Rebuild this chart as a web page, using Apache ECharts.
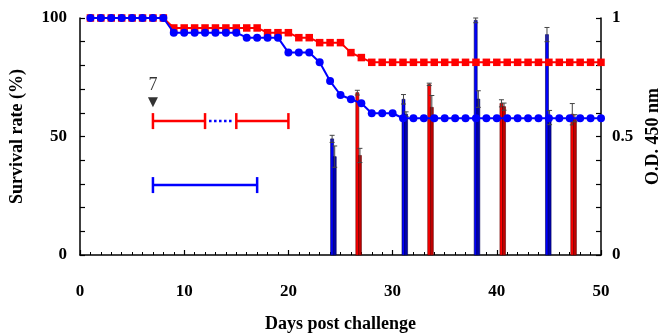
<!DOCTYPE html>
<html>
<head>
<meta charset="utf-8">
<script src="https://cdn.jsdelivr.net/npm/echarts@6/dist/echarts.min.js"></script>
<style>
  html, body { margin: 0; padding: 0; background: #fff; }
  #chart { width: 664px; height: 334px; }
</style>
</head>
<body>
<div id="chart"></div>
<script>
// 攻毒后天数
const days = [1, 2, 3, 4, 5, 6, 7, 8, 9, 10, 11, 12, 13, 14, 15, 16, 17, 18, 19, 20,
  21, 22, 23, 24, 25, 26, 27, 28, 29, 30, 31, 32, 33, 34, 35, 36, 37, 38, 39, 40,
  41, 42, 43, 44, 45, 46, 47, 48, 49, 50];

// 存活率 (%)
const survivalRed = [100, 100, 100, 100, 100, 100, 100, 100,
  95.8, 95.8, 95.8, 95.8, 95.8, 95.8, 95.8, 95.8, 95.8,
  93.8, 93.8, 93.8, 91.7, 91.7, 89.6, 89.6, 89.6, 85.4, 83.3,
  81.3, 81.3, 81.3, 81.3, 81.3, 81.3, 81.3, 81.3, 81.3, 81.3, 81.3, 81.3,
  81.3, 81.3, 81.3, 81.3, 81.3, 81.3, 81.3, 81.3, 81.3, 81.3, 81.3];
const survivalBlue = [100, 100, 100, 100, 100, 100, 100, 100,
  93.8, 93.8, 93.8, 93.8, 93.8, 93.8, 93.8,
  91.7, 91.7, 91.7, 91.7, 85.4, 85.4, 85.4, 81.3, 73.4, 67.5, 65.7, 64.0,
  59.8, 59.8, 59.8, 57.7, 57.7, 57.7, 57.7, 57.7, 57.7, 57.7, 57.7, 57.7, 57.7,
  57.7, 57.7, 57.7, 57.7, 57.7, 57.7, 57.7, 57.7, 57.7, 57.7];

// O.D. 450 nm 柱子 (每组两根)
const odDays = [24.32, 26.74, 31.17, 33.64, 38.1, 40.57, 44.94, 47.37];
const odGroup = ['blue', 'red', 'blue', 'red', 'blue', 'red', 'blue', 'red'];
const odFirst = [0.49, 0.685, 0.657, 0.72, 0.99, 0.64, 0.93, 0.594];
const odFirstErr = [0.015, 0.01, 0.02, 0.005, 0.01, 0.015, 0.03, 0.045];
const odSecond = [0.415, 0.42, 0.594, 0.623, 0.658, 0.626, 0.58, 0.577];
const odSecondErr = [0.045, 0.03, 0.01, 0.05, 0.035, 0.015, 0.03, 0.015];

// 免疫时间段标注
const redPeriods = [[7, 12], [15, 20]];
const redPeriodY = 56.5;
const gapPeriod = [12, 15];
const bluePeriod = [7, 17];
const bluePeriodY = 29.5;
const arrowDay = 7;
const arrowY = 64.5;

const FONT = 'Liberation Serif';
const colorMap = {
  red: { fill: '#ff0000', dark: '#c00000', edge: '#600000' },
  blue: { fill: '#0000ff', dark: '#0000b0', edge: '#000050' },
};

const myChart = echarts.init(document.getElementById('chart'), null, { renderer: 'canvas' });

const barData = odDays.map((d, i) => [d, odFirst[i], odFirstErr[i], odSecond[i], odSecondErr[i], i]);

function renderBars(params, api) {
  const i = api.value(5);
  const c = colorMap[odGroup[i]];
  const base = api.coord([api.value(0), 0]);
  const children = [];
  const bw = 3;
  const pairs = [
    [-1.3, api.value(1), api.value(2), c.fill],
    [1.3, api.value(3), api.value(4), c.dark],
  ];
  pairs.forEach(([off, v, e, fill]) => {
    const cx = base[0] + off;
    const top = api.coord([api.value(0), v])[1];
    children.push({
      type: 'rect',
      shape: { x: cx - bw / 2, y: top, width: bw, height: base[1] - top },
      style: { fill, stroke: c.edge, lineWidth: 0.6 },
    });
    // 误差线
    const hi = api.coord([api.value(0), v + e])[1];
    const lo = api.coord([api.value(0), v - e])[1];
    const ec = '#444';
    children.push({ type: 'line', shape: { x1: cx, y1: hi, x2: cx, y2: lo }, style: { stroke: ec, lineWidth: 1 } });
    children.push({ type: 'line', shape: { x1: cx - 2.5, y1: hi, x2: cx + 2.5, y2: hi }, style: { stroke: ec, lineWidth: 1 } });
    children.push({ type: 'line', shape: { x1: cx - 2.5, y1: lo, x2: cx + 2.5, y2: lo }, style: { stroke: ec, lineWidth: 1 } });
  });
  return { type: 'group', children };
}

function renderBracket(color) {
  return function (params, api) {
    const p1 = api.coord([api.value(0), api.value(2)]);
    const p2 = api.coord([api.value(1), api.value(2)]);
    const st = { stroke: color, lineWidth: 2.5 };
    return {
      type: 'group',
      children: [
        { type: 'line', shape: { x1: p1[0], y1: p1[1], x2: p2[0], y2: p2[1] }, style: st },
        { type: 'line', shape: { x1: p1[0], y1: p1[1] - 8, x2: p1[0], y2: p1[1] + 8 }, style: st },
        { type: 'line', shape: { x1: p2[0], y1: p2[1] - 8, x2: p2[0], y2: p2[1] + 8 }, style: st },
      ],
    };
  };
}

function renderDotted(params, api) {
  const p1 = api.coord([api.value(0), api.value(2)]);
  const p2 = api.coord([api.value(1), api.value(2)]);
  return {
    type: 'line',
    shape: { x1: p1[0] + 4, y1: p1[1], x2: p2[0] - 3, y2: p2[1] },
    style: { stroke: '#0000ff', lineWidth: 2.5, lineDash: [2.5, 2.5] },
  };
}

const labelStyle = { color: '#000', fontFamily: FONT, fontWeight: 'bold', fontSize: 17 };
const nameStyle = { color: '#000', fontFamily: FONT, fontWeight: 'bold', fontSize: 18 };

const option = {
  backgroundColor: '#fff',
  animation: false,
  grid: { left: 80, right: 63, top: 18, bottom: 79, outerBoundsMode: 'none' },
  xAxis: {
    type: 'value',
    min: 0,
    max: 50,
    interval: 10,
    name: 'Days post challenge',
    nameLocation: 'middle',
    nameGap: 60,
    nameTextStyle: nameStyle,
    axisLine: { show: true, lineStyle: { color: '#000', width: 1.5 } },
    axisTick: { show: true, inside: true, length: 5, lineStyle: { color: '#000', width: 1.2 } },
    minorTick: { show: true, splitNumber: 10, length: 3, lineStyle: { color: '#000', width: 1 } },
    axisLabel: { ...labelStyle, margin: 28 },
    splitLine: { show: false },
  },
  yAxis: [
    {
      type: 'value',
      min: 0,
      max: 100,
      interval: 50,
      position: 'left',
      name: 'Survival rate (%)',
      nameLocation: 'middle',
      nameRotate: 90,
      nameGap: 54,
      nameTextStyle: nameStyle,
      axisLine: { show: true, lineStyle: { color: '#000', width: 1.5 } },
      axisTick: { show: true, inside: true, length: 5, lineStyle: { color: '#000', width: 1.2 } },
      minorTick: { show: true, splitNumber: 5, length: 5, lineStyle: { color: '#000', width: 1.2 } },
      axisLabel: { ...labelStyle, margin: 13 },
      splitLine: { show: false },
    },
    {
      type: 'value',
      min: 0,
      max: 1,
      interval: 0.5,
      position: 'right',
      name: 'O.D. 450 nm',
      nameLocation: 'middle',
      nameRotate: 90,
      nameGap: 40,
      nameTextStyle: nameStyle,
      axisLine: { show: true, lineStyle: { color: '#000', width: 1.5 } },
      axisTick: { show: true, inside: true, length: 5, lineStyle: { color: '#000', width: 1.2 } },
      minorTick: { show: true, splitNumber: 5, length: 5, lineStyle: { color: '#000', width: 1.2 } },
      axisLabel: { ...labelStyle, margin: 11 },
      splitLine: { show: false },
    },
  ],
  series: [
    {
      type: 'custom',
      name: 'OD',
      yAxisIndex: 1,
      renderItem: renderBars,
      data: barData,
      z: 1,
    },
    {
      type: 'custom',
      renderItem: renderBracket('#ff0000'),
      data: redPeriods.map((p) => [p[0], p[1], redPeriodY]),
      z: 2,
    },
    {
      type: 'custom',
      renderItem: renderDotted,
      data: [[gapPeriod[0], gapPeriod[1], redPeriodY]],
      z: 2,
    },
    {
      type: 'custom',
      renderItem: renderBracket('#0000ff'),
      data: [[bluePeriod[0], bluePeriod[1], bluePeriodY]],
      z: 2,
    },
    {
      type: 'scatter',
      data: [[arrowDay, arrowY]],
      symbol: 'triangle',
      symbolRotate: 180,
      symbolSize: [10, 10],
      itemStyle: { color: '#000' },
      label: {
        show: true,
        position: 'top',
        distance: 3,
        formatter: String(arrowDay),
        color: '#000',
        fontFamily: FONT,
        fontSize: 18,
      },
      z: 3,
    },
    {
      type: 'line',
      name: 'red',
      data: days.map((d, i) => [d, survivalRed[i]]),
      symbol: 'rect',
      symbolSize: 7.5,
      lineStyle: { color: '#ff0000', width: 2 },
      itemStyle: { color: '#ff0000' },
      z: 4,
    },
    {
      type: 'line',
      name: 'blue',
      data: days.map((d, i) => [d, survivalBlue[i]]),
      symbol: 'circle',
      symbolSize: 8,
      lineStyle: { color: '#0000ff', width: 2 },
      itemStyle: { color: '#0000ff' },
      z: 5,
    },
  ],
};

myChart.setOption(option);
</script>
</body>
</html>
